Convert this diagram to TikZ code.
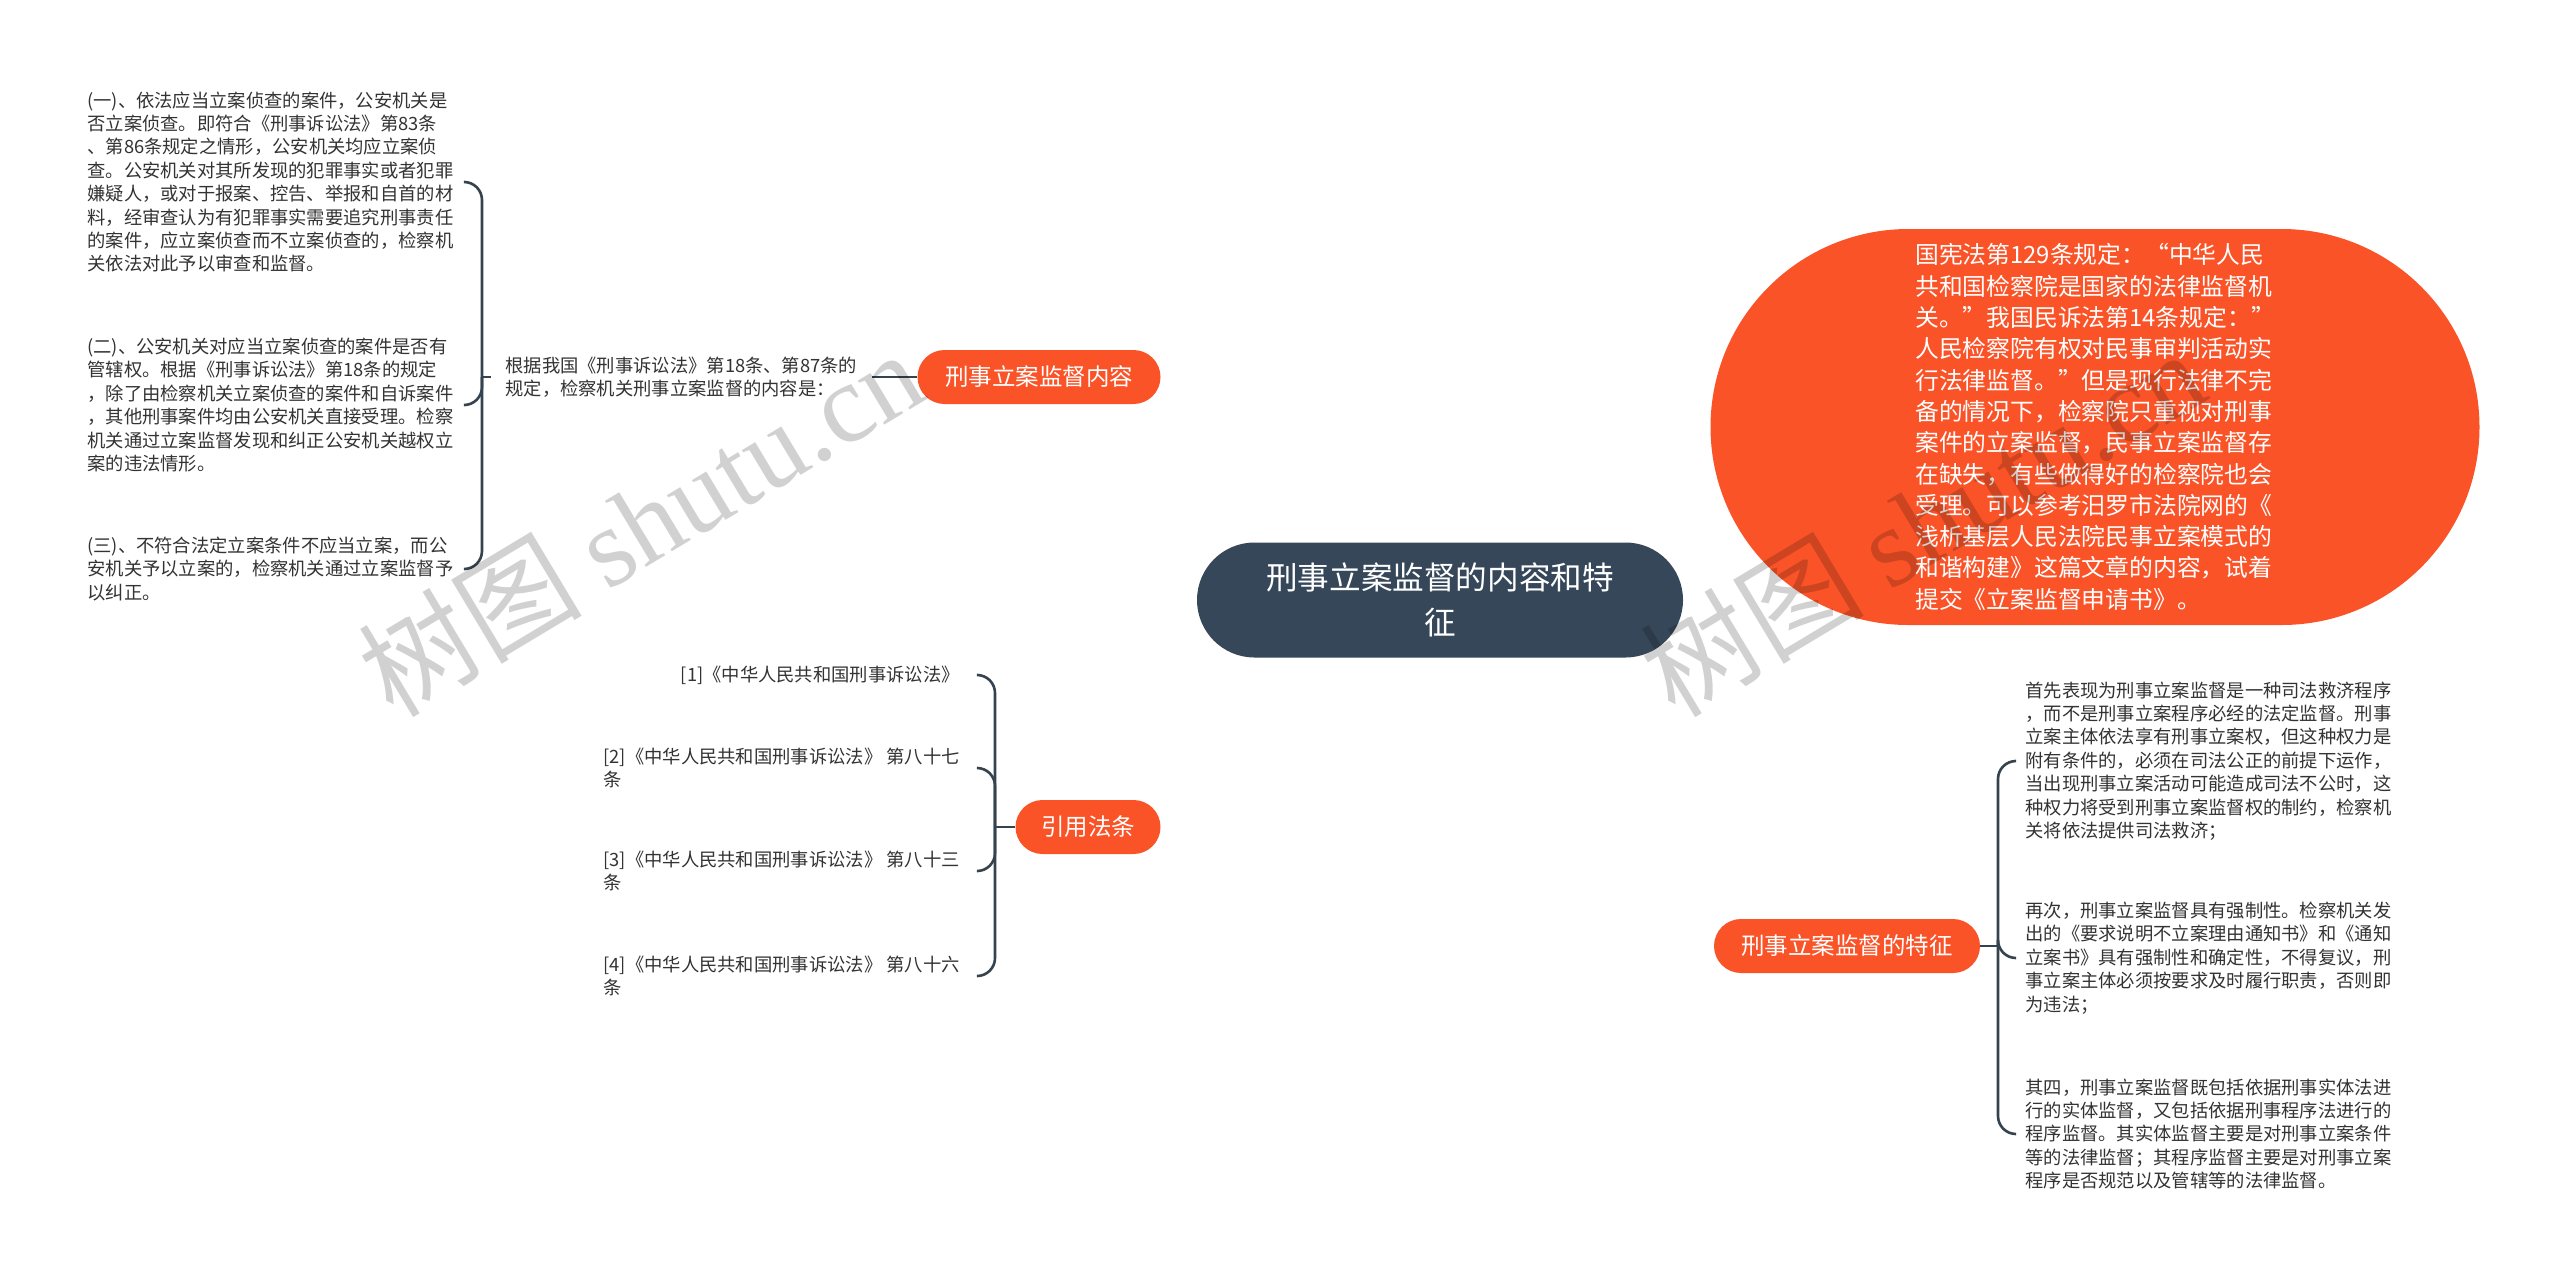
\documentclass[tikz,border=0pt]{standalone}
\usepackage{fontspec}
\newfontfamily\cjk{Noto Sans CJK SC}
\newfontfamily\wmserif{Liberation Serif}
\usetikzlibrary{backgrounds}
\definecolor{orangered}{HTML}{FA5328}
\definecolor{slate}{HTML}{36475A}
\definecolor{linec}{HTML}{35434F}
\definecolor{txt}{HTML}{333333}
\begin{document}
\begin{tikzpicture}[x=0.5pt,y=-0.5pt,
  small/.style={font=\cjk\fontsize{9.15}{11.7}\selectfont, text=txt, inner sep=0pt, align=left},
  topic/.style={fill=orangered, text=white, rounded corners=13.5pt, minimum height=27pt, inner sep=0pt, font=\cjk\fontsize{11.75}{14}\selectfont},
  central/.style={fill=slate, text=white, rounded corners=28.75pt, minimum width=243pt, minimum height=57.5pt, inner sep=0pt, align=center, font=\cjk\fontsize{15.8}{22.5}\selectfont},
  bigE/.style={fill=orangered, text=white, rounded corners=99pt, minimum width=384.5pt, minimum height=198pt, inner sep=0pt, align=left, font=\cjk\fontsize{11.9}{15.65}\selectfont},
  conn/.style={draw=linec, line width=1.3pt},
  brk/.style={conn, rounded corners=9pt},
  wm/.style={font=\cjk\fontsize{56}{60}\selectfont, text=black, text opacity=0.18}]
\path[use as bounding box, fill=white] (0,0) rectangle (2560,1281);

% main nodes
\node[central] (C) at (1440,600) {刑事立案监督的内容和特\\征};
\node[topic, minimum width=121.5pt] (n1) at (1039,377) {刑事立案监督内容};
\node[topic, minimum width=72.5pt] (n2) at (1088,827) {引用法条};
\node[topic, minimum width=133pt] (n3) at (1847,946) {刑事立案监督的特征};
\node[bigE] (E) at (2095,427) {国宪法第129条规定：“中华人民\\共和国检察院是国家的法律监督机\\关。”我国民诉法第14条规定：”\\人民检察院有权对民事审判活动实\\行法律监督。”但是现行法律不完\\备的情况下，检察院只重视对刑事\\案件的立案监督，民事立案监督存\\在缺失，有些做得好的检察院也会\\受理。可以参考汨罗市法院网的《\\浅析基层人民法院民事立案模式的\\和谐构建》这篇文章的内容，试着\\提交《立案监督申请书》。};

% left group
\node[small, anchor=west, inner xsep=7pt] (lab) at (491,377) {根据我国《刑事诉讼法》第18条、第87条的\\规定，检察机关刑事立案监督的内容是：};
\node[small, anchor=west] (b1) at (87,182) {(一)、依法应当立案侦查的案件，公安机关是\\否立案侦查。即符合《刑事诉讼法》第83条\\、第86条规定之情形，公安机关均应立案侦\\查。公安机关对其所发现的犯罪事实或者犯罪\\嫌疑人，或对于报案、控告、举报和自首的材\\料，经审查认为有犯罪事实需要追究刑事责任\\的案件，应立案侦查而不立案侦查的，检察机\\关依法对此予以审查和监督。};
\node[small, anchor=west] (b2) at (87,405) {(二)、公安机关对应当立案侦查的案件是否有\\管辖权。根据《刑事诉讼法》第18条的规定\\，除了由检察机关立案侦查的案件和自诉案件\\，其他刑事案件均由公安机关直接受理。检察\\机关通过立案监督发现和纠正公安机关越权立\\案的违法情形。};
\node[small, anchor=west] (b3) at (87,569) {(三)、不符合法定立案条件不应当立案，而公\\安机关予以立案的，检察机关通过立案监督予\\以纠正。};
\coordinate (J1) at (482,377);
\coordinate (L1) at (465,0);

% cited laws group
\node[small, anchor=east] (r1) at (960,675) {[1]《中华人民共和国刑事诉讼法》};
\node[small, anchor=east] (r2) at (960,768) {[2]《中华人民共和国刑事诉讼法》 第八十七\\条};
\node[small, anchor=east] (r3) at (960,871) {[3]《中华人民共和国刑事诉讼法》 第八十三\\条};
\node[small, anchor=east] (r4) at (960,976) {[4]《中华人民共和国刑事诉讼法》 第八十六\\条};
\coordinate (J2) at (995,827);
\coordinate (L2) at (978,0);

% features group
\node[small, anchor=west] (c1) at (2025,761) {首先表现为刑事立案监督是一种司法救济程序\\，而不是刑事立案程序必经的法定监督。刑事\\立案主体依法享有刑事立案权，但这种权力是\\附有条件的，必须在司法公正的前提下运作，\\当出现刑事立案活动可能造成司法不公时，这\\种权力将受到刑事立案监督权的制约，检察机\\关将依法提供司法救济；};
\node[small, anchor=west] (c2) at (2025,958) {再次，刑事立案监督具有强制性。检察机关发\\出的《要求说明不立案理由通知书》和《通知\\立案书》具有强制性和确定性，不得复议，刑\\事立案主体必须按要求及时履行职责，否则即\\为违法；};
\node[small, anchor=west] (c3) at (2025,1134) {其四，刑事立案监督既包括依据刑事实体法进\\行的实体监督，又包括依据刑事程序法进行的\\程序监督。其实体监督主要是对刑事立案条件\\等的法律监督；其程序监督主要是对刑事立案\\程序是否规范以及管辖等的法律监督。};
\coordinate (J3) at (1998,946);
\coordinate (L3) at (2015,0);

\begin{pgfonlayer}{background}
\draw[conn] (C.center) .. controls (1435,450) and (1320,377) .. (n1.east);
\draw[conn] (C.center) .. controls (1445,470) and (1560,427) .. (E.west);
\draw[conn] (C.center) .. controls (1435,760) and (1320,827) .. (n2.east);
\draw[conn] (C.center) .. controls (1440,880) and (1540,946) .. (n3.west);
\end{pgfonlayer}

% left brackets
\draw[conn] (n1.west) -- (lab.east);
\draw[conn] (lab.west) -- (J1);
\draw[brk] (J1) -- (J1 |- b1) -- (L1 |- b1);
\draw[brk] (J1) -- (J1 |- b2) -- (L1 |- b2);
\draw[brk] (J1) -- (J1 |- b3) -- (L1 |- b3);

\draw[conn] (n2.west) -- (J2);
\draw[brk] (J2) -- (J2 |- r1) -- (L2 |- r1);
\draw[brk] (J2) -- (J2 |- r2) -- (L2 |- r2);
\draw[brk] (J2) -- (J2 |- r3) -- (L2 |- r3);
\draw[brk] (J2) -- (J2 |- r4) -- (L2 |- r4);

\draw[conn] (n3.east) -- (J3);
\draw[brk] (J3) -- (J3 |- c1) -- (L3 |- c1);
\draw[brk] (J3) -- (J3 |- c2) -- (L3 |- c2);
\draw[brk] (J3) -- (J3 |- c3) -- (L3 |- c3);

% watermarks
\node[wm, rotate=31] (wm1) at (640,522) {树图 {\wmserif shutu.cn}};
\node[wm, rotate=31] (wm2) at (1922,522) {树图 {\wmserif shutu.cn}};
\end{tikzpicture}
\end{document}
